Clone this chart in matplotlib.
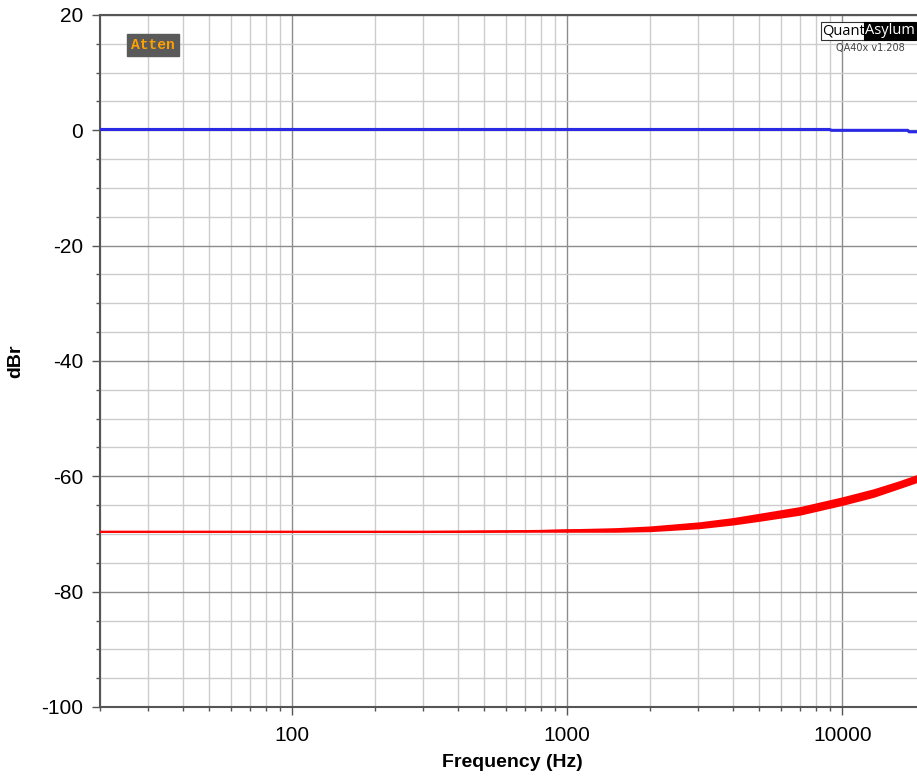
import matplotlib
matplotlib.use("Agg")
import matplotlib.pyplot as plt
from matplotlib.ticker import FixedLocator, NullFormatter
import numpy as np

red_freq = [20, 100, 300, 700, 1000, 1500, 2000, 3000, 4000, 5000, 7000, 10000, 13000, 16000, 20000]
red_level = [-69.6, -69.6, -69.6, -69.5, -69.4, -69.3, -69.1, -68.5, -67.8, -67.1, -66.0, -64.3, -62.9, -61.5, -59.9]
red_spread = [0.12, 0.12, 0.15, 0.2, 0.3, 0.4, 0.5, 0.6, 0.65, 0.7, 0.75, 0.75, 0.75, 0.7, 0.7]

blue_freq = [20, 1000, 9000, 9150, 17300, 17500, 20000]
blue_level = [0.15, 0.15, 0.15, 0.0, 0.0, -0.25, -0.25]

x_major = [100, 1000, 10000]
y_major = [20, 0, -20, -40, -60, -80, -100]

plt.rcParams['font.family'] = ['Liberation Sans', 'DejaVu Sans']
plt.rcParams['axes.unicode_minus'] = False

fig = plt.figure(figsize=(9.17, 7.77), dpi=100)
ax = fig.add_axes([100 / 917, 70 / 777, 825 / 917, 692 / 777])

lower = np.array(red_level) - np.array(red_spread)
upper = np.array(red_level) + np.array(red_spread)
ax.fill_between(red_freq, lower, upper, color='#ff0000', lw=0, zorder=3)
ax.plot(red_freq, red_level, color='#ff0000', lw=1.5, zorder=3)
ax.plot(blue_freq, blue_level, color='#2a2ae6', lw=2.2, zorder=4)

ax.set_xscale('log')
ax.set_xlim(20, 20000)
ax.set_ylim(-100, 20)

minor_x = [m * d for d in [10, 100, 1000, 10000] for m in range(2, 10) if 20 <= m * d <= 20000]
ax.xaxis.set_major_locator(FixedLocator(x_major))
ax.xaxis.set_minor_locator(FixedLocator(minor_x))
ax.xaxis.set_minor_formatter(NullFormatter())
ax.set_xticklabels([str(v) for v in x_major])
ax.yaxis.set_major_locator(FixedLocator(y_major))
ax.yaxis.set_minor_locator(FixedLocator(list(range(-95, 20, 5))))

ax.grid(True, which='major', color='#8c8c8c', lw=1.0)
ax.grid(True, which='minor', color='#cccccc', lw=1.0)
ax.set_axisbelow(True)

ax.tick_params(which='major', length=6, width=1, color='#555555', labelsize=15, pad=6)
ax.tick_params(which='minor', length=3, width=1, color='#555555')
ax.tick_params(axis='x', pad=8)

for side in ['left', 'top', 'bottom']:
    ax.spines[side].set_color('#555555')
    ax.spines[side].set_linewidth(1.5)
ax.spines['right'].set_visible(False)

ax.set_xlabel('Frequency (Hz)', fontsize=14, fontweight='bold', labelpad=6)
ax.set_ylabel('dBr', fontsize=14, fontweight='bold', labelpad=12)

# "Atten" badge
fig.text(153 / 917, 1 - 45 / 777, 'Atten', family='Liberation Mono', fontweight='bold',
         fontsize=10.5, color='#ffa000', ha='center', va='center',
         bbox=dict(boxstyle='square,pad=0.25', fc='#5a5a5a', ec='#5a5a5a'))

# QuantAsylum logo
fig.text(865 / 917, 1 - 31 / 777, 'Quant', fontsize=10.5, color='black', ha='right', va='center',
         family='Open Sans',
         bbox=dict(boxstyle='square,pad=0.1', fc='white', ec='#333333', lw=0.8))
fig.text(865 / 917, 1 - 31 / 777, 'Asylum', fontsize=10.5, color='white', ha='left', va='center',
         family='Open Sans',
         bbox=dict(boxstyle='square,pad=0.1', fc='black', ec='black', lw=0.8))
fig.text(870 / 917, 1 - 48 / 777, 'QA40x v1.208', fontsize=7, color='#444444', ha='center', va='center',
         family='DejaVu Sans')

fig.savefig('out.png', dpi=100)
